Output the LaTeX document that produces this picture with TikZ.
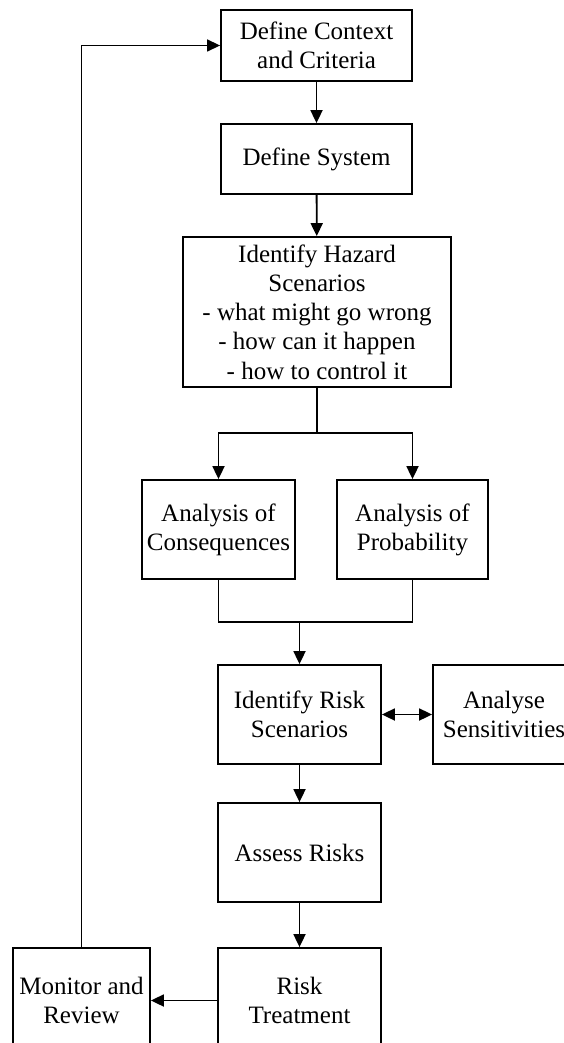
\documentclass[tikz,border=0pt]{standalone}
\usepackage{fontspec}
\setmainfont{Liberation Serif}
\usetikzlibrary{arrows.meta}

\begin{document}
\begin{tikzpicture}[
  x=0.5pt, y=-0.5pt,
  every node/.style={font=\fontsize{12.5}{14.6}\selectfont},
  stage/.style={draw, line width=0.9pt, align=center, inner sep=0pt},
  link/.style={line width=0.9pt},
  loopback/.style={line width=0.7pt},
  >={Triangle[length=6.5pt, width=6pt]}
]

% Canvas
\useasboundingbox[fill=white] (0,0) rectangle (563,1043);

% Main column
\node[stage, minimum width=95.5pt, minimum height=35.5pt] (ctx) at (316.5, 45.5) {Define Context\\and Criteria};
\node[stage, minimum width=95.5pt, minimum height=35pt] (sys) at (316.5, 159) {Define System};
\node[stage, minimum width=134pt, minimum height=75pt] (haz) at (317, 312)
  {Identify Hazard\\Scenarios\\- what might go wrong\\- how can it happen\\- how to control it};

% Analysis pair
\node[stage, minimum width=76.5pt, minimum height=49.5pt] (cons) at (218.5, 529.5) {Analysis of\\Consequences};
\node[stage, minimum width=75.5pt, minimum height=49.5pt] (prob) at (412.5, 529.5) {Analysis of\\Probability};

% Risk stages
\node[stage, minimum width=81.5pt, minimum height=49.5pt] (risk) at (299.5, 714.5) {Identify Risk\\Scenarios};
\node[stage, minimum width=71pt, minimum height=49.5pt] (sens) at (504, 714.5) {Analyse\\Sensitivities};
\node[stage, minimum width=81.5pt, minimum height=49.5pt] (assess) at (299.5, 852.5) {Assess Risks};
\node[stage, minimum width=81.5pt, minimum height=52.5pt] (treat) at (299.5, 1000.5) {Risk\\Treatment};
\node[stage, minimum width=68.5pt, minimum height=52.5pt] (mon) at (81.5, 1000.5) {Monitor and\\Review};

% Junctions
\coordinate (split) at (317, 433);
\coordinate (merge) at (299.5, 622);

% Connectors
\draw[link, ->] (ctx) -- (sys);
\draw[link, ->] (sys) -- (haz);
\draw[link] (haz.south) -- (split);
\draw[link, ->] (split) -| (cons.north);
\draw[link, ->] (split) -| (prob.north);
\draw[link] (cons.south) |- (merge) -| (prob.south);
\draw[link, ->] (merge) -- (risk.north);
\draw[link, <->] (risk.east) -- (sens.west);
\draw[link, ->] (risk) -- (assess);
\draw[link, ->] (assess) -- (treat);
\draw[link, ->] (treat.west) -- (mon.east);
\draw[loopback, ->] (mon.north) |- (ctx.west);

\end{tikzpicture}
\end{document}
